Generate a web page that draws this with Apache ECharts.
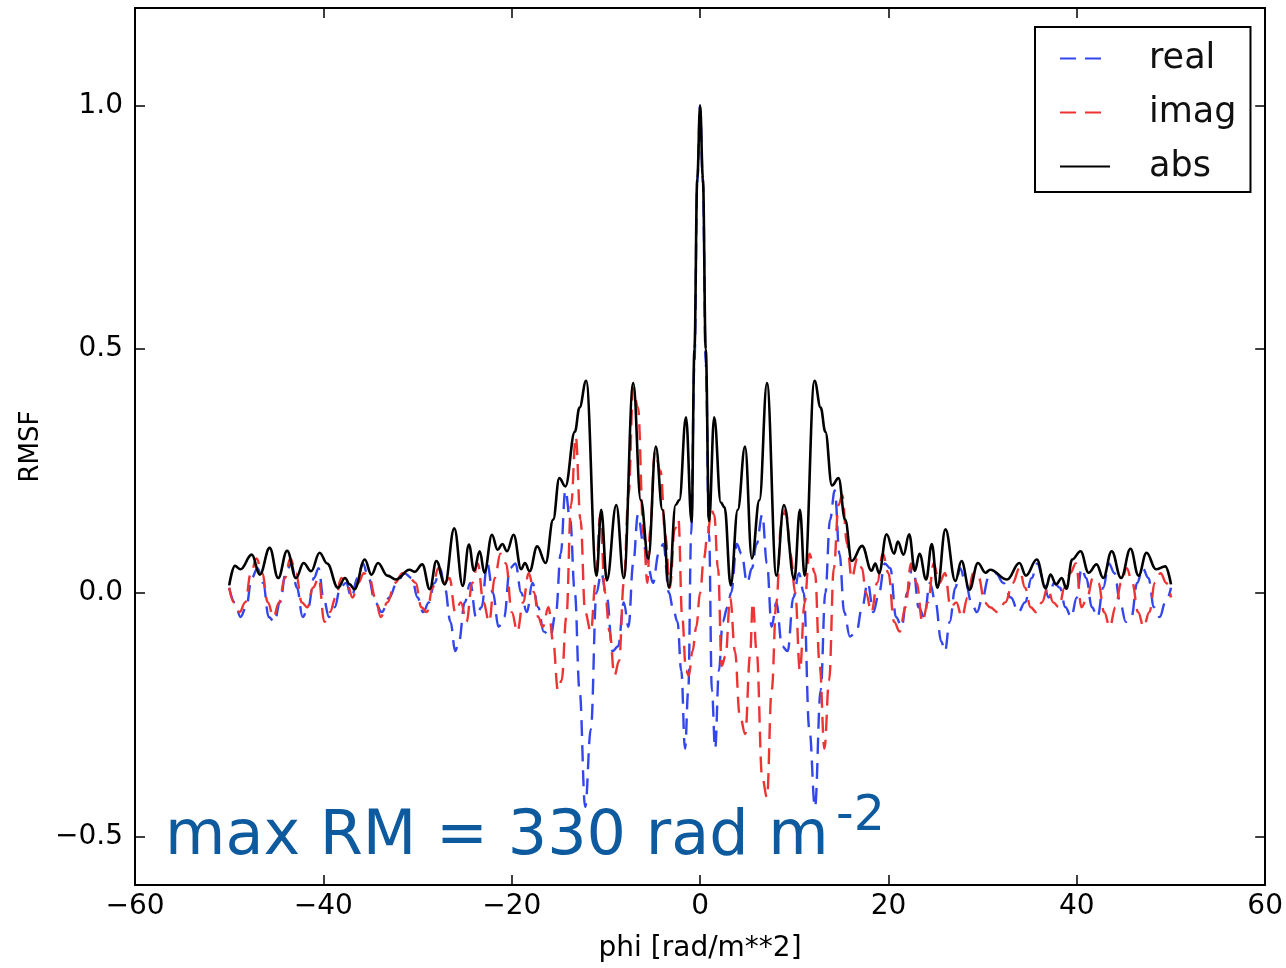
<!DOCTYPE html>
<html><head><meta charset="utf-8">
<script src="https://cdn.jsdelivr.net/npm/echarts@6/dist/echarts.min.js"></script>
<style>html,body{margin:0;padding:0;background:#fff}#c{width:1286px;height:968px}</style>
</head><body><div id="c"></div>
<script>
const xTicks = [-60, -40, -20, 0, 20, 40, 60];
const yTicks = [-0.5, 0.0, 0.5, 1.0];
const seriesNames = ['real', 'imag', 'abs'];

const absData = [[-50.0,0.015],[-49.4,0.055],[-48.8,0.048],[-47.6,0.078],[-46.75,0.037],[-45.7,0.092],[-44.8,0.03],[-43.85,0.086],[-42.9,0.03],[-42.1,0.061],[-41.3,0.044],[-40.4,0.082],[-39.6,0.06],[-38.45,0.01],[-37.7,0.03],[-37.2,0.017],[-36.7,0.007],[-35.6,0.068],[-34.9,0.037],[-34.2,0.061],[-33.2,0.035],[-32.3,0.027],[-30.85,0.047],[-30.3,0.043],[-29.5,0.058],[-28.7,0.007],[-28.0,0.065],[-27.1,0.017],[-26.1,0.132],[-25.2,0.014],[-24.55,0.099],[-24.0,0.045],[-23.4,0.085],[-22.9,0.041],[-22.1,0.119],[-21.5,0.088],[-21.0,0.10],[-20.5,0.085],[-19.8,0.119],[-19.0,0.048],[-18.6,0.061],[-18.1,0.044],[-17.3,0.095],[-16.4,0.061],[-15.6,0.15],[-14.95,0.235],[-14.3,0.218],[-13.3,0.33],[-12.8,0.38],[-12.1,0.435],[-11.0,0.035],[-10.5,0.17],[-9.9,0.025],[-8.9,0.18],[-8.1,0.03],[-7.1,0.43],[-6.3,0.19],[-5.5,0.07],[-4.7,0.30],[-4.0,0.17],[-3.3,0.01],[-2.6,0.18],[-2.2,0.19],[-1.5,0.36],[-0.9,0.145],[-0.6,0.5],[-0.3,0.85],[0,1.0],[0.3,0.85],[0.6,0.5],[0.95,0.147],[1.5,0.36],[2.2,0.185],[2.6,0.175],[3.25,0.015],[4.0,0.17],[4.77,0.30],[5.5,0.07],[6.3,0.19],[7.1,0.43],[8.1,0.035],[8.9,0.18],[10.0,0.027],[10.6,0.17],[11.1,0.035],[12.15,0.435],[12.8,0.38],[13.3,0.33],[14.0,0.22],[14.7,0.235],[15.4,0.15],[16.1,0.065],[17.2,0.096],[18.2,0.045],[18.6,0.06],[19.0,0.04],[19.8,0.12],[20.6,0.08],[21.0,0.105],[21.6,0.078],[22.2,0.12],[22.8,0.045],[23.3,0.08],[24.0,0.027],[24.6,0.10],[25.2,0.01],[26.05,0.13],[27.1,0.024],[27.75,0.065],[28.6,0.006],[29.5,0.061],[30.3,0.041],[30.8,0.047],[32.6,0.027],[33.9,0.061],[34.6,0.035],[35.75,0.068],[36.7,0.009],[37.2,0.037],[37.8,0.017],[38.4,0.03],[38.9,0.008],[39.5,0.068],[40.4,0.085],[41.25,0.041],[42.1,0.058],[42.8,0.03],[43.7,0.085],[44.7,0.03],[45.7,0.09],[46.55,0.035],[47.4,0.082],[48.4,0.048],[49.4,0.054],[50.0,0.017]];

const realData = [[-50.0,0.01],[-49.4,-0.02],[-48.8,-0.05],[-48.2,-0.03],[-47.6,0.03],[-47.0,0.05],[-46.4,0.02],[-45.8,-0.05],[-45.2,-0.06],[-44.6,-0.02],[-44.0,0.04],[-43.4,0.06],[-42.8,0.01],[-42.2,-0.05],[-41.6,-0.03],[-41.0,0.03],[-40.5,0.05],[-40.0,-0.01],[-39.4,-0.05],[-38.8,-0.03],[-38.2,0.01],[-37.6,0.02],[-37.0,-0.01],[-36.4,0.03],[-35.8,0.06],[-35.2,0.03],[-34.5,-0.02],[-33.8,-0.04],[-33.0,-0.01],[-32.2,0.02],[-31.4,0.04],[-30.6,0.03],[-30.0,-0.01],[-29.4,-0.04],[-28.8,-0.02],[-28.2,0.02],[-27.6,0.05],[-27.1,0.01],[-26.5,-0.06],[-26.0,-0.12],[-25.6,-0.1],[-25.0,-0.02],[-24.4,0.02],[-23.8,-0.05],[-23.2,-0.03],[-22.6,0.06],[-22.0,0.0],[-21.4,-0.07],[-20.8,-0.05],[-20.2,0.05],[-19.6,0.06],[-19.0,0.0],[-18.4,-0.04],[-17.8,0.02],[-17.2,-0.03],[-16.6,-0.08],[-15.9,-0.09],[-15.3,-0.04],[-14.8,0.08],[-14.3,0.21],[-13.8,0.15],[-13.3,0.0],[-12.8,-0.2],[-12.2,-0.44],[-11.6,-0.28],[-11.0,0.0],[-10.5,0.04],[-9.9,-0.01],[-9.3,-0.12],[-8.7,-0.11],[-8.1,-0.02],[-7.6,-0.07],[-7.1,0.06],[-6.6,0.16],[-6.0,0.1],[-5.5,0.05],[-5.0,0.02],[-4.4,0.08],[-3.9,0.1],[-3.3,0.0],[-2.9,-0.03],[-2.4,-0.06],[-2.0,-0.16],[-1.6,-0.32],[-1.25,-0.2],[-0.95,0.12],[-0.6,0.47],[-0.3,0.84],[0,1.0],[0.3,0.84],[0.6,0.47],[0.95,0.12],[1.25,-0.2],[1.6,-0.32],[2.0,-0.16],[2.4,-0.06],[2.9,-0.03],[3.3,0.0],[3.9,0.1],[4.4,0.08],[5.0,0.02],[5.5,0.05],[6.0,0.1],[6.6,0.16],[7.1,0.06],[7.6,-0.07],[8.1,-0.02],[8.7,-0.11],[9.3,-0.12],[9.9,-0.01],[10.5,0.04],[11.0,0.0],[11.6,-0.28],[12.2,-0.44],[12.8,-0.2],[13.3,0.0],[13.8,0.15],[14.3,0.21],[14.8,0.08],[15.3,-0.04],[15.9,-0.09],[16.6,-0.08],[17.2,-0.03],[17.8,0.02],[18.4,-0.04],[19.0,0.0],[19.6,0.06],[20.2,0.05],[20.8,-0.05],[21.4,-0.07],[22.0,0.0],[22.6,0.06],[23.2,-0.03],[23.8,-0.05],[24.4,0.02],[25.0,-0.02],[25.6,-0.1],[26.0,-0.12],[26.5,-0.06],[27.1,0.01],[27.6,0.05],[28.2,0.02],[28.8,-0.02],[29.4,-0.04],[30.0,-0.01],[30.6,0.03],[31.4,0.04],[32.2,0.02],[33.0,-0.01],[33.8,-0.04],[34.5,-0.02],[35.2,0.03],[35.8,0.06],[36.4,0.03],[37.0,-0.01],[37.6,0.02],[38.2,0.01],[38.8,-0.03],[39.4,-0.05],[40.0,-0.01],[40.5,0.05],[41.0,0.03],[41.6,-0.03],[42.2,-0.05],[42.8,0.01],[43.4,0.06],[44.0,0.04],[44.6,-0.02],[45.2,-0.06],[45.8,-0.05],[46.4,0.02],[47.0,0.05],[47.6,0.03],[48.2,-0.03],[48.8,-0.05],[49.4,-0.02],[50.0,0.01]];

const imagData = [[-50.0,0.01],[-49.5,-0.02],[-48.9,-0.04],[-48.3,-0.02],[-47.7,0.04],[-47.1,0.07],[-46.5,0.04],[-45.9,-0.02],[-45.3,-0.05],[-44.7,-0.02],[-44.1,0.03],[-43.5,0.07],[-42.9,0.04],[-42.3,-0.02],[-41.7,-0.03],[-41.1,0.01],[-40.5,0.03],[-39.9,-0.06],[-39.3,-0.04],[-38.7,-0.01],[-38.1,0.03],[-37.5,0.02],[-36.9,-0.01],[-36.3,0.02],[-35.7,0.04],[-35.1,0.03],[-34.5,-0.01],[-33.9,-0.05],[-33.2,-0.02],[-32.4,0.02],[-31.6,0.04],[-30.8,0.03],[-30.2,0.02],[-29.6,-0.03],[-29.0,-0.04],[-28.4,0.01],[-27.8,0.05],[-27.2,0.02],[-26.6,0.03],[-26.0,-0.04],[-25.4,-0.02],[-24.8,-0.06],[-24.2,0.02],[-23.6,0.06],[-23.0,-0.02],[-22.4,-0.06],[-21.8,0.03],[-21.2,0.08],[-20.6,0.06],[-20.0,-0.04],[-19.4,-0.08],[-18.8,-0.02],[-18.2,0.04],[-17.6,0.0],[-17.2,-0.05],[-16.7,-0.07],[-16.1,-0.03],[-15.6,-0.1],[-15.1,-0.2],[-14.7,-0.18],[-14.2,-0.05],[-13.7,0.18],[-13.2,0.32],[-12.7,0.15],[-12.2,-0.04],[-11.6,-0.08],[-11.1,0.02],[-10.6,0.16],[-10.1,0.0],[-9.6,-0.08],[-9.1,-0.17],[-8.6,-0.14],[-8.1,0.02],[-7.6,0.2],[-7.1,0.42],[-6.6,0.38],[-6.0,0.12],[-5.6,0.02],[-5.3,0.13],[-4.8,0.29],[-4.2,0.25],[-3.7,0.12],[-3.2,0.01],[-2.7,0.13],[-2.3,0.15],[-1.9,-0.05],[-1.5,-0.16],[-1.2,-0.17],[-0.8,-0.12],[-0.4,-0.07],[0,0],[0.4,0.07],[0.8,0.12],[1.2,0.17],[1.5,0.16],[1.9,0.05],[2.3,-0.15],[2.7,-0.13],[3.2,-0.01],[3.7,-0.12],[4.2,-0.25],[4.8,-0.29],[5.3,-0.13],[5.6,-0.02],[6.0,-0.12],[6.6,-0.38],[7.1,-0.42],[7.6,-0.2],[8.1,-0.02],[8.6,0.14],[9.1,0.17],[9.6,0.08],[10.1,0.0],[10.6,-0.16],[11.1,-0.02],[11.6,0.08],[12.2,0.04],[12.7,-0.15],[13.2,-0.32],[13.7,-0.18],[14.2,0.05],[14.7,0.18],[15.1,0.2],[15.6,0.1],[16.1,0.03],[16.7,0.07],[17.2,0.05],[17.6,0.0],[18.2,-0.04],[18.8,0.02],[19.4,0.08],[20.0,0.04],[20.6,-0.06],[21.2,-0.08],[21.8,-0.03],[22.4,0.06],[23.0,0.02],[23.6,-0.06],[24.2,-0.02],[24.8,0.06],[25.4,0.02],[26.0,0.04],[26.6,-0.03],[27.2,-0.02],[27.8,-0.05],[28.4,-0.01],[29.0,0.04],[29.6,0.03],[30.2,-0.02],[30.8,-0.03],[31.6,-0.04],[32.4,-0.02],[33.2,0.02],[33.9,0.05],[34.5,0.01],[35.1,-0.03],[35.7,-0.04],[36.3,-0.02],[36.9,0.01],[37.5,-0.02],[38.1,-0.03],[38.7,0.01],[39.3,0.04],[39.9,0.06],[40.5,-0.03],[41.1,-0.01],[41.7,0.03],[42.3,0.02],[42.9,-0.04],[43.5,-0.07],[44.1,-0.03],[44.7,0.02],[45.3,0.05],[45.9,0.02],[46.5,-0.04],[47.1,-0.07],[47.7,-0.04],[48.3,0.02],[48.9,0.04],[49.5,0.02],[50.0,-0.01]];

const FONT = 'DejaVu Sans';
const minus = s => String(s).replace('-', '\u2212');
const chart = echarts.init(document.getElementById('c'), null, {renderer: 'canvas'});

const frameLine = {show: true, onZero: false, lineStyle: {color: '#000', width: 2}};
const tickStyle = {show: true, inside: true, length: 10, lineStyle: {color: '#000', width: 1.5}};
const BLUE = '#3346ee', RED = '#ee3333';

const option = {
  animation: false,
  backgroundColor: '#fff',
  grid: {left: 135, right: 19, top: 8, bottom: 80},
  xAxis: [
    {type: 'value', min: -60, max: 60, interval: 20, position: 'bottom',
     axisLine: frameLine, axisTick: tickStyle, splitLine: {show: false},
     axisLabel: {customValues: xTicks, formatter: v => minus(v), fontFamily: FONT, fontSize: 28, color: '#000', margin: 8},
     name: 'phi [rad/m**2]', nameLocation: 'middle', nameGap: 50,
     nameTextStyle: {fontFamily: FONT, fontSize: 28, color: '#000'}},
    {type: 'value', min: -60, max: 60, interval: 20, position: 'top',
     axisLine: frameLine, axisTick: tickStyle, axisLabel: {show: false}, splitLine: {show: false}}
  ],
  yAxis: [
    {type: 'value', min: -0.6, max: 1.2, position: 'left',
     axisLine: frameLine, splitLine: {show: false},
     axisTick: Object.assign({customValues: yTicks}, tickStyle),
     axisLabel: {customValues: yTicks, formatter: v => minus(v.toFixed(1)), fontFamily: FONT, fontSize: 28, color: '#000', margin: 12},
     name: 'RMSF', nameLocation: 'middle', nameGap: 90, nameRotate: 90,
     nameTextStyle: {fontFamily: FONT, fontSize: 26, color: '#000'}},
    {type: 'value', min: -0.6, max: 1.2, position: 'right',
     axisLine: frameLine, splitLine: {show: false},
     axisTick: Object.assign({customValues: yTicks}, tickStyle),
     axisLabel: {show: false}}
  ],
  legend: {
    data: seriesNames, orient: 'vertical', left: 1035, top: 27,
    itemWidth: 50, itemHeight: 20, itemGap: 19,
    padding: [14, 14, 8, 24],
    borderColor: '#000', borderWidth: 2, backgroundColor: '#fff',
    itemStyle: {opacity: 0},
    textStyle: {fontFamily: FONT, fontSize: 35, color: '#111', padding: [0, 0, 0, 34]}
  },
  graphic: [
    {type: 'text', left: 165, top: 807, z: 100,
     style: {text: 'max RM = 330 rad m', fontFamily: FONT, fontSize: 62, fill: '#0d5a9e'}},
    {type: 'text', left: 836, top: 793, z: 100,
     style: {text: '-2', fontFamily: FONT, fontSize: 49, fill: '#0d5a9e'}}
  ],
  series: [
    {name: 'real', type: 'line', data: realData, symbol: 'none', smooth: 0.4, smoothMonotone: 'x',
     lineStyle: {color: BLUE, width: 2.4, type: [16, 9]}, itemStyle: {color: BLUE}},
    {name: 'imag', type: 'line', data: imagData, symbol: 'none', smooth: 0.4, smoothMonotone: 'x',
     lineStyle: {color: RED, width: 2.4, type: [16, 9]}, itemStyle: {color: RED}},
    {name: 'abs', type: 'line', data: absData, symbol: 'none', smooth: 0.4, smoothMonotone: 'x',
     lineStyle: {color: '#000', width: 2.6}, itemStyle: {color: '#000'}}
  ]
};
chart.setOption(option);
</script></body></html>
